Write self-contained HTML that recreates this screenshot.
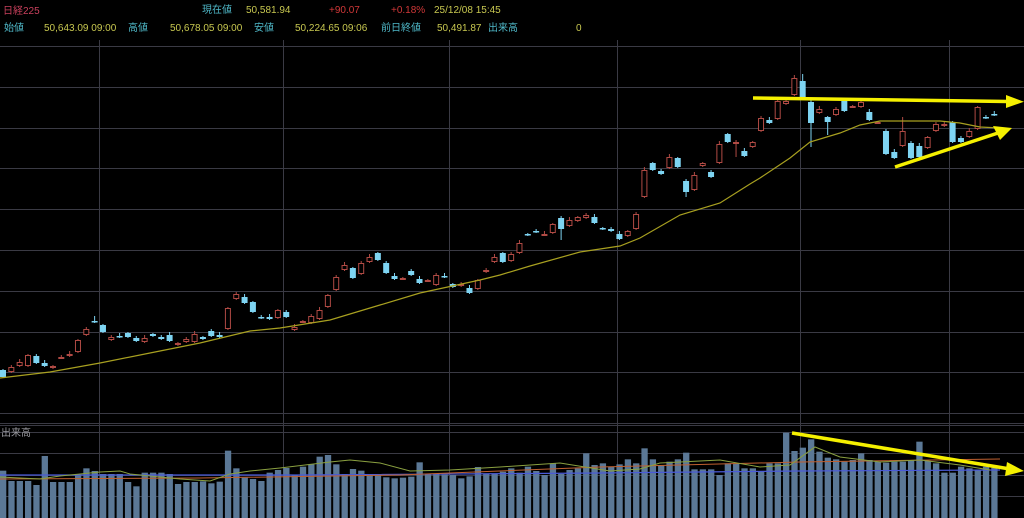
<!DOCTYPE html>
<html><head><meta charset="utf-8"><style>
html,body{margin:0;padding:0;background:#000;width:1024px;height:518px;overflow:hidden}
svg{display:block}
text{font-family:"Liberation Sans","Noto Sans CJK JP",sans-serif;font-size:10px}
</style></head><body>
<svg id="s" width="1024" height="518" xmlns="http://www.w3.org/2000/svg">
<rect width="1024" height="518" fill="#000"/>
<g id="grid" stroke="#3a3a44" stroke-width="1"></g>
<g id="vol"></g>
<g id="candles"></g>
<text x="3" y="14" fill="#c8405c" font-size="11">日経225</text>
<text x="202" y="13" fill="#4fb8c8">現在値</text>
<text x="246" y="13" fill="#c8c850">50,581.94</text>
<text x="329" y="13" fill="#d03838">+90.07</text>
<text x="391" y="13" fill="#d03838">+0.18%</text>
<text x="434" y="13" fill="#c8c850">25/12/08  15:45</text>
<text x="4" y="31" fill="#4fb8c8">始値</text>
<text x="44" y="31" fill="#c8c850">50,643.09  09:00</text>
<text x="128" y="31" fill="#4fb8c8">高値</text>
<text x="170" y="31" fill="#c8c850">50,678.05  09:00</text>
<text x="254" y="31" fill="#4fb8c8">安値</text>
<text x="295" y="31" fill="#c8c850">50,224.65  09:06</text>
<text x="381" y="31" fill="#4fb8c8">前日終値</text>
<text x="437" y="31" fill="#c8c850">50,491.87</text>
<text x="488" y="31" fill="#4fb8c8">出来高</text>
<text x="576" y="31" fill="#c8c850">0</text>
<text x="1" y="436" fill="#9a9aa0" font-size="9">出来高</text>
<polyline fill="none" stroke="#a8a020" stroke-width="1.2" points="0,378 50,372 100,363 150,353 200,343 250,331 280,328 330,320 380,305 420,293 480,280 500,275 530,266 580,252 620,246 640,238 680,215 720,203 750,184 760,178 790,158 810,142 840,133 860,125 880,121 940,121 960,123 980,127 1000,128"/>
<g id="vma"></g>
<g fill="#f5f000" stroke="#f5f000">
<line x1="753" y1="98" x2="1008" y2="101.5" stroke-width="3.5"/>
<polygon points="1006,95 1024,101.7 1006,108" stroke="none"/>
<line x1="895" y1="167" x2="998" y2="133" stroke-width="3.5"/>
<polygon points="993,126 1012,128 1000,140" stroke="none"/>
<line x1="792" y1="433" x2="1010" y2="469" stroke-width="3.5"/>
<polygon points="1007,462 1024,471 1005,476" stroke="none"/>
</g>
</svg>
<script>
var NS="http://www.w3.org/2000/svg";
function el(p,t,a){var e=document.createElementNS(NS,t);for(var k in a)e.setAttribute(k,a[k]);p.appendChild(e);return e;}
var g=document.getElementById('grid');
[46,87,128,168,209,250,291,332,372,413,423,425,432,453,475,496].forEach(function(y){el(g,'line',{x1:0,x2:1024,y1:y+.5,y2:y+.5});});
[99,283,449,617,800,949].forEach(function(x){el(g,'line',{x1:x+.5,x2:x+.5,y1:40,y2:518});});
var C=[[370,377,'b'],[367,372,'r'],[362,366,'r'],[355,366,'r'],[356,363,'b'],[363,366,'b'],[366,368,'r'],[357,358,'r'],[354,356,'r'],[340,352,'r'],[329,335,'r'],[321,322,'b'],[325,332,'b'],[337,340,'r'],[336,337,'b'],[333,337,'b'],[338,341,'b'],[338,342,'r'],[334,336,'b'],[337,339,'b'],[335,341,'b'],[343,345,'r'],[339,342,'r'],[334,342,'r'],[337,339,'b'],[331,336,'b'],[335,337,'b'],[308,329,'r'],[294,299,'r'],[297,303,'b'],[302,312,'b'],[317,318,'b'],[317,319,'b'],[310,318,'r'],[312,317,'b'],[327,330,'r'],[321,322,'r'],[316,323,'r'],[310,319,'r'],[295,307,'r'],[277,290,'r'],[265,270,'r'],[268,278,'b'],[263,274,'r'],[257,262,'r'],[253,260,'b'],[263,273,'b'],[276,279,'b'],[278,279,'r'],[271,275,'b'],[279,283,'b'],[280,281,'r'],[275,285,'r'],[276,277,'b'],[284,287,'b'],[284,286,'r'],[288,293,'b'],[280,289,'r'],[270,272,'r'],[257,262,'r'],[253,262,'b'],[254,261,'r'],[243,253,'r'],[234,235,'b'],[231,232,'b'],[234,235,'r'],[224,233,'r'],[218,229,'b'],[220,226,'r'],[217,221,'r'],[215,218,'r'],[217,223,'b'],[228,229,'b'],[229,231,'b'],[234,239,'b'],[231,236,'r'],[214,229,'r'],[170,197,'r'],[163,170,'b'],[171,174,'b'],[157,168,'r'],[158,167,'b'],[181,192,'b'],[175,190,'r'],[163,166,'r'],[172,177,'b'],[144,163,'r'],[134,142,'b'],[142,143,'r'],[151,156,'b'],[142,147,'r'],[118,131,'r'],[120,123,'b'],[101,119,'r'],[101,104,'r'],[78,95,'r'],[81,97,'b'],[102,123,'b'],[109,113,'r'],[117,122,'b'],[109,115,'r'],[101,111,'b'],[106,107,'r'],[102,107,'r'],[112,120,'b'],[122,123,'r'],[131,154,'b'],[152,158,'b'],[131,146,'r'],[143,158,'b'],[146,157,'b'],[137,148,'r'],[124,131,'r'],[124,126,'r'],[122,142,'b'],[138,142,'b'],[131,137,'r'],[107,129,'r'],[117,118,'b'],[114,115,'b']];
var cg=document.getElementById('candles');
C.forEach(function(c,i){var x=3+i*8.33;var t=c[0],b=c[1];var col=c[2]=='b'?'#7ed4f2':'#b04a44';
var wt=t-1-(i*7%3),wb=b+1+(i*3%3);
if(i==96)wt=74;if(i==97)wb=147;if(i==99)wb=135;if(i==108)wt=117;if(i==88)wb=157;if(i==82)wb=197;if(i==67)wb=240;if(i==11)wt=316;
el(cg,'line',{x1:x,x2:x,y1:wt,y2:wb,stroke:col,'stroke-width':1});
if(c[2]=='b')el(cg,'rect',{x:x-3,y:t,width:6,height:Math.max(b-t,1.5),fill:col});
else el(cg,'rect',{x:x-2.5,y:t+.5,width:5,height:Math.max(b-t-1,1),fill:'#000',stroke:col,'stroke-width':1});});
var V=[212,243,243,243,255,168,246,246,246,225,205,213,222,222,222,246,259,218,218,218,222,252,246,246,244,250,245,152,205,233,237,243,218,210,204,226,200,193,170,165,193,222,207,212,222,222,232,235,233,230,187,222,222,224,225,235,229,201,222,222,215,205,218,200,213,225,190,222,210,205,160,195,190,200,193,178,190,145,178,197,185,178,158,208,208,208,225,190,190,205,205,215,190,190,98,153,143,118,155,173,178,185,180,160,180,185,188,185,185,180,125,183,190,218,218,200,205,210,200,203];
var vg=document.getElementById('vol');
V.forEach(function(v,i){var x=i*8.33;var y=400+v/3;el(vg,'rect',{x:x,y:y,width:6.3,height:518-y,fill:'#5b7896'});});
var m=document.getElementById('vma');
el(m,'polyline',{fill:'none',stroke:'#4a5ad8','stroke-width':1.2,points:'0,475 300,475 600,473 800,471 1000,470'});
el(m,'polyline',{fill:'none',stroke:'#c06030','stroke-width':1,points:'0,479 200,478 400,475 600,467 800,462 1000,459'});
el(m,'polyline',{fill:'none',stroke:'#8aa040','stroke-width':1,points:'0,477 40,479 60,476 100,472 120,471 130,474 180,479 210,481 230,474 250,471 280,468 330,462 350,460 380,463 410,471 450,470 500,467 560,463 610,471 640,469 660,463 700,461 720,460 760,467 790,465 815,447 840,457 880,462 920,460 960,465 990,470'});
</script>
</body></html>
